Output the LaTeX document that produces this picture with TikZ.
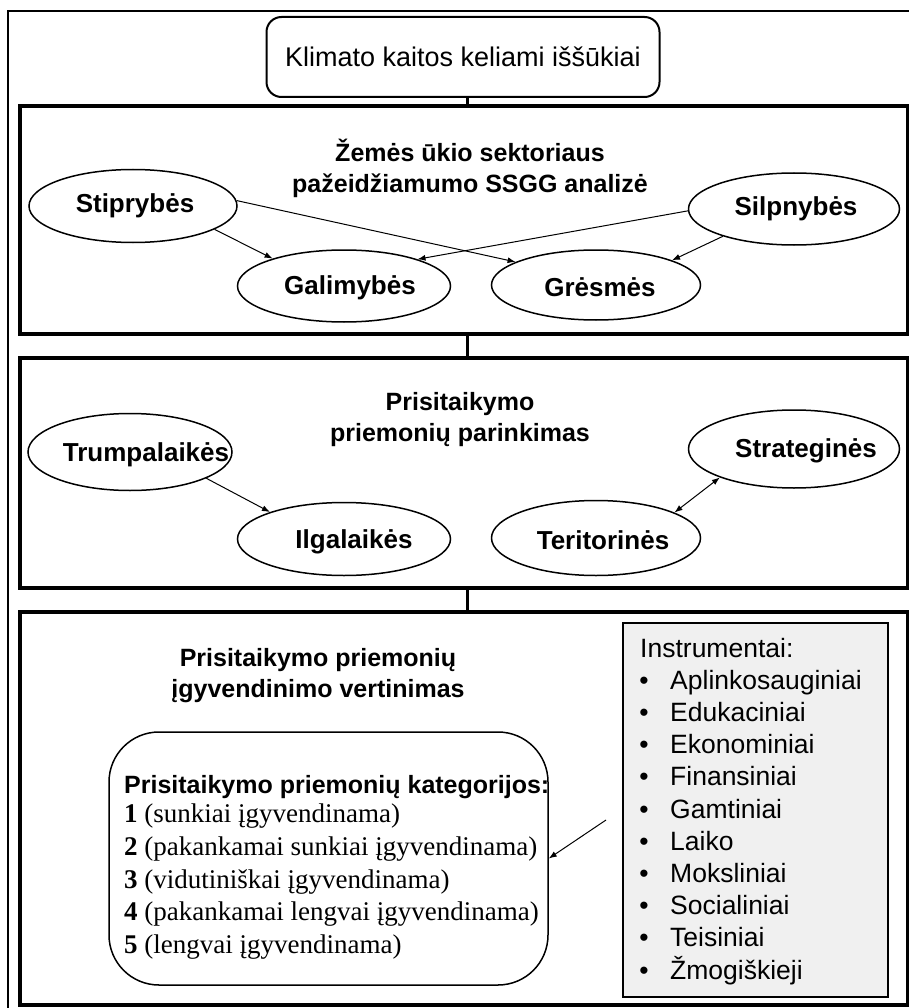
\documentclass[tikz,border=0pt]{standalone}
\usepackage{fontspec}
\setmainfont{Liberation Serif}
\setsansfont{Liberation Sans}
\usetikzlibrary{shapes.geometric,arrows.meta}
\begin{document}
\begin{tikzpicture}[x=1pt,y=-1pt,
  secbox/.style={draw,line width=4pt},
  ell/.style={draw,ellipse,line width=1.5pt,inner sep=0pt},
  lbl/.style={font=\sffamily\bfseries\fontsize{26}{30}\selectfont,inner sep=0pt},
  sectitle/.style={font=\sffamily\bfseries\fontsize{25}{31}\selectfont,align=center,inner sep=0pt},
  arr/.style={-{Latex[length=8pt,width=6pt]},line width=1pt},
  darr/.style={{Latex[length=8pt,width=6pt]}-{Latex[length=8pt,width=6pt]},line width=1pt},
  link/.style={line width=3pt},
  itm/.style={font=\sffamily\fontsize{26.5}{30}\selectfont,anchor=base west,inner sep=0pt},
  bul/.style={font=\sffamily\fontsize{26.5}{30}\selectfont,anchor=base,inner sep=0pt},
  cat/.style={font=\fontsize{27}{30}\selectfont,anchor=base west,inner sep=0pt},
]
\useasboundingbox (0,0) rectangle (909,1008);
\fill[white] (0,0) rectangle (909,1008);
% outer frame
\draw[line width=2pt] (8,11) rectangle (920,1020);

% title
\node[draw,rounded corners=15pt,line width=2pt,minimum width=393pt,minimum height=80pt,
  font=\sffamily\fontsize{27}{30}\selectfont] (title) at (463,57) {Klimato kaitos keliami iššūkiai};

% section boxes
\node[secbox,minimum width=888pt,minimum height=228pt,inner sep=0pt] (s1) at (464,220) {};
\node[secbox,minimum width=888pt,minimum height=230pt,inner sep=0pt] (s2) at (464,473) {};
\node[secbox,minimum width=888pt,minimum height=393pt,inner sep=0pt] (s3) at (464,808.5) {};

\draw[link] (title.south -| 467,0) -- (s1.north -| 467,0);
\draw[link] (s1.south -| 467,0) -- (s2.north -| 467,0);
\draw[link] (s2.south -| 467,0) -- (s3.north -| 467,0);

% section 1
\node[sectitle] (t1) at (470,168) {Žemės ūkio sektoriaus\\pažeidžiamumo SSGG analizė};
\node[ell,minimum width=208pt,minimum height=73pt] (stip) at (133,206) {};
\node[lbl] (stipT) at (135,206) {Stiprybės};
\node[ell,minimum width=211pt,minimum height=72pt] (silp) at (794,209) {};
\node[lbl] (silpT) at (796,209) {Silpnybės};
\node[ell,minimum width=213pt,minimum height=72pt] (gal) at (344,286) {};
\node[lbl] (galT) at (350,288) {Galimybės};
\node[ell,minimum width=209pt,minimum height=70pt] (gres) at (596,285) {};
\node[lbl] (gresT) at (600,287) {Grėsmės};

\draw[arr] (stip.-16) -- (gal.159);
\draw[arr] (stip.3) -- (gres.164);
\draw[arr] (silp.181) -- (gal.20);
\draw[arr] (silp.-159) -- (gres.18);

% section 2
\node[sectitle] (t2) at (460,420) {Prisitaikymo\\priemonių parinkimas};
\node[ell,minimum width=204pt,minimum height=77pt] (trump) at (130,452) {};
\node[lbl] (trumpT) at (146,455) {Trumpalaikės};
\node[ell,minimum width=211pt,minimum height=78pt] (strat) at (794,449) {};
\node[lbl] (stratT) at (806,451) {Strateginės};
\node[ell,minimum width=213pt,minimum height=73pt] (ilg) at (344,539) {};
\node[lbl] (ilgT) at (354,542) {Ilgalaikės};
\node[ell,minimum width=209pt,minimum height=75pt] (terit) at (596,538) {};
\node[lbl] (teritT) at (603,540) {Teritorinės};

\draw[arr] (trump.-19) -- (ilg.160);
\draw[darr] (terit.18) -- (strat.-159);

% section 3
\node[sectitle] (t3) at (318,676) {Prisitaikymo priemonių\\įgyvendinimo vertinimas};

\node[draw,line width=1.5pt,rounded corners=50pt,minimum width=439pt,minimum height=253pt,inner sep=0pt] (catbox) at (328.5,858.5) {};
\node[anchor=base west,inner sep=0pt,font=\sffamily\bfseries\fontsize{25}{30}\selectfont] (cathead) at (124,793) {Prisitaikymo priemonių kategorijos:};
\node[cat] (c1) at (124,822) {\textbf{1} (sunkiai įgyvendinama)};
\node[cat] (c2) at (124,855) {\textbf{2} (pakankamai sunkiai įgyvendinama)};
\node[cat] (c3) at (124,888) {\textbf{3} (vidutiniškai įgyvendinama)};
\node[cat] (c4) at (124,920) {\textbf{4} (pakankamai lengvai įgyvendinama)};
\node[cat] (c5) at (124,953) {\textbf{5} (lengvai įgyvendinama)};

\node[draw,fill=gray!12,line width=2pt,minimum width=265pt,minimum height=374pt,inner sep=0pt] (instr) at (755.5,810) {};
\node[itm] (ih) at (640,657) {Instrumentai:};
\foreach \t [count=\i] in {Aplinkosauginiai,Edukaciniai,Ekonominiai,Finansiniai,Gamtiniai,Laiko,Moksliniai,Socialiniai,Teisiniai,Žmogiškieji}{
  \node[bul] (b\i) at (644,{657+32.2*\i}) {•};
  \node[itm] (it\i) at (670,{657+32.2*\i}) {\t};
}

\coordinate (astart) at (606,820);
\draw[arr] (astart) -- (catbox.east);
\end{tikzpicture}
\end{document}
